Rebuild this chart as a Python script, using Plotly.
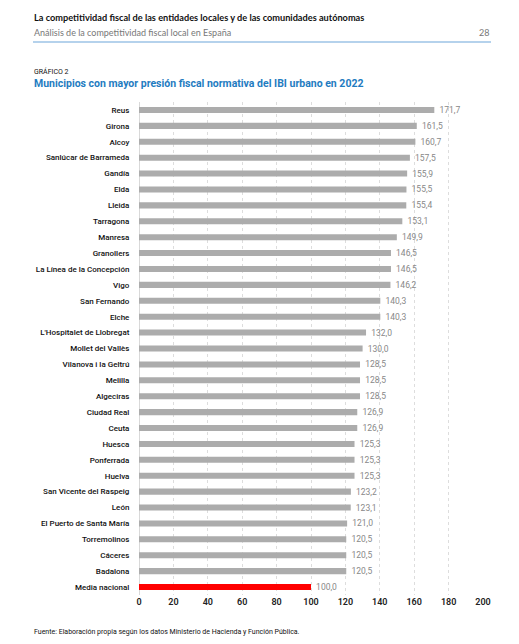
import plotly.graph_objects as go

municipios = ["Reus", "Girona", "Alcoy", "Sanlúcar de Barrameda", "Gandía", "Elda", "Lleida",
              "Tarragona", "Manresa", "Granollers", "La Línea de la Concepción", "Vigo",
              "San Fernando", "Elche", "L'Hospitalet de Llobregat", "Mollet del Vallès",
              "Vilanova i la Geltrú", "Melilla", "Algeciras", "Ciudad Real", "Ceuta", "Huesca",
              "Ponferrada", "Huelva", "San Vicente del Raspeig", "León", "El Puerto de Santa María",
              "Torremolinos", "Cáceres", "Badalona", "Media nacional"]
valores = [171.7, 161.5, 160.7, 157.5, 155.9, 155.5, 155.4, 153.1, 149.9, 146.5, 146.5, 146.2,
           140.3, 140.3, 132.0, 130.0, 128.5, 128.5, 128.5, 126.9, 126.9, 125.3, 125.3, 125.3,
           123.2, 123.1, 121.0, 120.5, 120.5, 120.5, 100.0]
ticks_x = [0, 20, 40, 60, 80, 100, 120, 140, 160, 180, 200]

colores = ["#ff0000" if m == "Media nacional" else "#acacac" for m in municipios]

FONT = "Roboto, sans-serif"
HFONT = "Lato, Noto Sans, sans-serif"

# page body adds 8px offset; work in screen coordinates and subtract it
OFF = 8
W, H = 519 - OFF, 644 - OFF
L = 139 - OFF
T = 102 - OFF
Rgt = W - (483 - OFF)
B = H - (595 - OFF)
pw, ph = W - L - Rgt, H - T - B

def px(X):
    return (X - OFF - L) / pw

def py(Y):
    return (H - B - (Y - OFF)) / ph

fig = go.Figure(go.Bar(
    x=valores, y=municipios, orientation="h",
    marker=dict(color=colores, line=dict(width=0)),
    texttemplate=" %{x:.1f}", textposition="outside", cliponaxis=False,
    constraintext="none",
    textfont=dict(family=FONT, size=8.5, color="#888888"),
))

fig.update_layout(
    width=W, height=H,
    margin=dict(l=L, r=Rgt, t=T, b=B, pad=0),
    paper_bgcolor="white", plot_bgcolor="white",
    separators=",.",
    bargap=0.62,
    showlegend=False,
    font=dict(family=FONT),
    xaxis=dict(range=[0, 200], tickvals=ticks_x, showgrid=True, gridcolor="#dddddd",
               griddash="3px,3px", gridwidth=1, zeroline=True, zerolinecolor="#d9d9d9",
               zerolinewidth=1, showline=False,
               tickfont=dict(family=FONT, size=9, color="#222222", weight=600), ticks="",
               fixedrange=True),
    yaxis=dict(categoryorder="array", categoryarray=municipios, autorange="reversed",
               tickfont=dict(family=FONT, size=8, color="#111111", weight=500),
               ticks="outside", ticklen=7, tickcolor="white", showgrid=False, fixedrange=True),
    shapes=[dict(type="line", xref="paper", yref="paper", x0=px(33), x1=px(491),
                 y0=py(42), y1=py(42), line=dict(color="#9cc3e6", width=1.5))],
    annotations=[
        dict(text="<b>La competitividad fiscal de las entidades locales y de las comunidades autónomas</b>",
             xref="paper", yref="paper", x=px(32), y=py(18), xanchor="left", yanchor="middle",
             showarrow=False, font=dict(family=HFONT, size=9.2, color="#111111")),
        dict(text="Análisis de la competitividad fiscal local en España",
             xref="paper", yref="paper", x=px(32), y=py(32), xanchor="left", yanchor="middle",
             showarrow=False, font=dict(family=HFONT, size=9, color="#777777")),
        dict(text="28", xref="paper", yref="paper", x=px(491), y=py(32), xanchor="right",
             yanchor="middle", showarrow=False, font=dict(family=HFONT, size=9, color="#777777")),
        dict(text="GRÁFICO 2", xref="paper", yref="paper", x=px(32), y=py(71), xanchor="left",
             yanchor="middle", showarrow=False, font=dict(family=FONT, size=7, color="#111111")),
        dict(text="<b>Municipios con mayor presión fiscal normativa del IBI urbano en 2022</b>",
             xref="paper", yref="paper", x=px(32), y=py(83), xanchor="left", yanchor="middle",
             showarrow=False, font=dict(family=FONT, size=10.5, color="#1f7cc1")),
        dict(text="Fuente: Elaboración propia según los datos Ministerio de Hacienda y Función Pública.",
             xref="paper", yref="paper", x=px(32), y=py(632), xanchor="left", yanchor="middle",
             showarrow=False, font=dict(family=FONT, size=7, color="#111111")),
    ],
)

fig.write_html("out.html")
